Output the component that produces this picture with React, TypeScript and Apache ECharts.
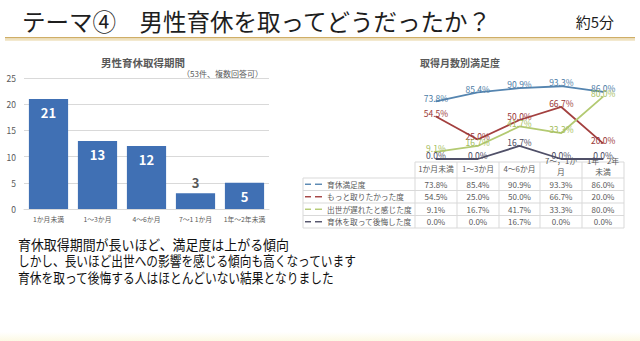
import React, { useEffect, useRef } from "react";
import * as echarts from "echarts";

const FONT = '"Noto Sans CJK JP", "Noto Sans", sans-serif';

// Left chart: 男性育休取得期間
const periodCategories = ["1か月未満", "1～3か月", "4～6か月", "7～1 1か月", "1年～2年未満"];
const periodCounts = [21, 13, 12, 3, 5];
const countTicks = [0, 5, 10, 15, 20, 25];

// Right chart: 取得月数別満足度
const tableCategories = ["1か月未満", "1～3か月", "4～6か月", "7～，1か\n月", "1年　2年\n未満"];
const seriesNames = ["育休満足度", "もっと取りたかった度", "出世が遅れたと感じた度", "育休を取って後悔した度"];
const satisfaction = [73.8, 85.4, 90.9, 93.3, 86.0];
const wantedMore = [54.5, 25.0, 50.0, 66.7, 20.0];
const careerDelay = [9.1, 16.7, 41.7, 33.3, 80.0];
const regret = [0.0, 0.0, 16.7, 0.0, 0.0];

const bottomLines = [
  "育休取得期間が長いほど、満足度は上がる傾向",
  "しかし、長いほど出世への影響を感じる傾向も高くなっています",
  "育休を取って後悔する人はほとんどいない結果となりました",
];

const lineColors = ["#5585b0", "#a3403f", "#b3ca72", "#505068"];
const labelColors = ["#4c7ca6", "#9a3838", "#a4bd5c", "#4a4a62"];

export default function App() {
  const ref = useRef<HTMLDivElement>(null);
  useEffect(() => {
    document.body.style.margin = "0";
    const chart = echarts.init(ref.current!, null, { renderer: "svg" });
    const lineData = [satisfaction, wantedMore, careerDelay, regret];

    // Table geometry
    const colX = [415, 457, 499, 540, 582, 624];
    const legendLeft = 303;
    const headerTop = 162;
    const rowY = [178, 190.5, 203, 215.5, 228];
    const gridColor = "#d9d9d9";
    const textGray = "#595959";

    const g: any[] = [];
    // background bottom strip
    g.push({
      type: "rect",
      shape: { x: 0, y: 332, width: 640, height: 9 },
      style: {
        fill: new echarts.graphic.LinearGradient(0, 0, 0, 1, [
          { offset: 0, color: "rgba(253,250,228,0)" },
          { offset: 1, color: "#fcf9e4" },
        ]),
      },
      silent: true,
    });
    // title
    g.push({
      type: "text",
      x: 22,
      y: 20,
      style: {
        text: "テーマ④　男性育休を取ってどうだったか？",
        font: `400 24px ${FONT}`,
        fill: "#1e1e1e",
        textVerticalAlign: "middle",
      },
      scaleX: 0.98,
    });
    g.push({
      type: "text",
      x: 614,
      y: 21,
      style: {
        text: "約5分",
        font: `400 15px ${FONT}`,
        fill: "#1e1e1e",
        textAlign: "right",
        textVerticalAlign: "middle",
      },
    });
    // gold rule
    g.push({ type: "rect", shape: { x: 5, y: 37, width: 630, height: 1.6 }, style: { fill: "#cfae66" } });
    g.push({ type: "rect", shape: { x: 5, y: 38.6, width: 630, height: 2.2 }, style: { fill: "#efe2bf" } });

    // chart titles
    g.push({
      type: "text",
      x: 143,
      y: 62,
      style: { text: "男性育休取得期間", font: `700 10.5px ${FONT}`, fill: textGray, textAlign: "center", textVerticalAlign: "middle" },
    });
    g.push({
      type: "text",
      x: 263,
      y: 73,
      style: { text: "（53件、複数回答可）", font: `400 8px ${FONT}`, fill: textGray, textAlign: "right", textVerticalAlign: "middle" },
    });
    g.push({
      type: "text",
      x: 460,
      y: 62,
      style: { text: "取得月数別満足度", font: `700 10px ${FONT}`, fill: textGray, textAlign: "center", textVerticalAlign: "middle" },
    });

    // table lines
    const hl = (x1: number, x2: number, y: number) =>
      g.push({ type: "line", shape: { x1, y1: y, x2, y2: y }, style: { stroke: gridColor, lineWidth: 1 }, silent: true });
    const vl = (x: number, y1: number, y2: number) =>
      g.push({ type: "line", shape: { x1: x, y1, x2: x, y2 }, style: { stroke: gridColor, lineWidth: 1 }, silent: true });
    hl(colX[0], colX[colX.length - 1], headerTop);
    rowY.forEach((y) => hl(legendLeft, colX[colX.length - 1], y));
    colX.forEach((x) => vl(x, headerTop, rowY[rowY.length - 1]));
    vl(legendLeft, rowY[0], rowY[rowY.length - 1]);

    // header cells
    tableCategories.forEach((c, i) => {
      const cx = (colX[i] + colX[i + 1]) / 2;
      const multi = c.includes("\n");
      g.push({
        type: "text",
        x: cx,
        y: multi ? 166 : 168,
        style: {
          text: c,
          font: `400 7.8px ${FONT}`,
          fill: textGray,
          textAlign: "center",
          textVerticalAlign: "middle",
          lineHeight: 11,
        },
      });
    });
    // rows
    seriesNames.forEach((name, r) => {
      const cy = (rowY[r] + rowY[r + 1]) / 2;
      g.push({ type: "line", shape: { x1: 305, y1: cy, x2: 311, y2: cy }, style: { stroke: lineColors[r], lineWidth: 1.4 } });
      g.push({ type: "line", shape: { x1: 315, y1: cy, x2: 322, y2: cy }, style: { stroke: lineColors[r], lineWidth: 1.4 } });
      g.push({
        type: "text",
        x: 327,
        y: cy,
        style: { text: name, font: `400 7.7px ${FONT}`, fill: textGray, textVerticalAlign: "middle" },
      });
      lineData[r].forEach((v, i) => {
        const cx = (colX[i] + colX[i + 1]) / 2;
        g.push({
          type: "text",
          x: cx,
          y: cy,
          style: {
            text: `${v.toFixed(1)}%`,
            font: `400 8px ${FONT}`,
            fill: textGray,
            textAlign: "center",
            textVerticalAlign: "middle",
          },
        });
      });
    });

    // bottom text
    const scales = [0.925, 0.835, 0.84];
    bottomLines.forEach((t, i) => {
      g.push({
        type: "text",
        x: 18,
        y: 244 + i * 16.5,
        scaleX: scales[i],
        style: { text: t, font: `400 14px ${FONT}`, fill: "#111", textVerticalAlign: "middle" },
      });
    });

    chart.setOption({
      animation: false,
      backgroundColor: "#ffffff",
      textStyle: { fontFamily: FONT },
      grid: [
        { left: 24, top: 78, width: 245, height: 131 },
        { left: 415, top: 81, width: 209, height: 78 },
      ],
      xAxis: [
        {
          type: "category",
          gridIndex: 0,
          data: periodCategories,
          axisTick: { show: false },
          axisLine: { lineStyle: { color: gridColor } },
          axisLabel: { fontSize: 6.8, color: textGray, margin: 7, fontFamily: FONT, interval: 0 },
        },
        {
          type: "category",
          gridIndex: 1,
          data: tableCategories,
          show: false,
          boundaryGap: true,
        },
      ],
      yAxis: [
        {
          type: "value",
          gridIndex: 0,
          min: countTicks[0],
          max: countTicks[countTicks.length - 1],
          interval: countTicks[1] - countTicks[0],
          axisLine: { show: false },
          axisTick: { show: false },
          axisLabel: { fontSize: 8.5, color: textGray, margin: 8, fontFamily: FONT },
          splitLine: { lineStyle: { color: gridColor } },
        },
        { type: "value", gridIndex: 1, min: 0, max: 100, show: false, splitLine: { show: false } },
      ],
      series: [
        {
          type: "bar",
          xAxisIndex: 0,
          yAxisIndex: 0,
          barWidth: "80%",
          itemStyle: { color: "#4070b4" },
          data: periodCounts.map((v) => ({
            value: v,
            label:
              v < 4
                ? { position: "top", color: textGray, distance: 4 }
                : { position: "insideTop", color: "#ffffff", distance: 7 },
          })),
          label: { show: true, fontSize: 13, fontWeight: "bold", fontFamily: FONT },
        },
        ...lineData.map((d, i) => ({
          type: "line",
          name: seriesNames[i],
          xAxisIndex: 1,
          yAxisIndex: 1,
          data: d,
          symbol: "circle",
          symbolSize: 1,
          showSymbol: true,
          lineStyle: { color: lineColors[i], width: 1.8 },
          itemStyle: { color: lineColors[i] },
          label: {
            show: true,
            position: "top",
            distance: -1,
            fontSize: 8.5,
            color: labelColors[i],
            fontFamily: FONT,
            formatter: (p: any) => `${Number(p.value).toFixed(1)}%`,
          },
          z: 3,
        })),
      ],
      graphic: g,
    });
    return () => chart.dispose();
  }, []);
  return <div ref={ref} style={{ position: "fixed", left: 0, top: 0, width: 640, height: 341 }} />;
}
